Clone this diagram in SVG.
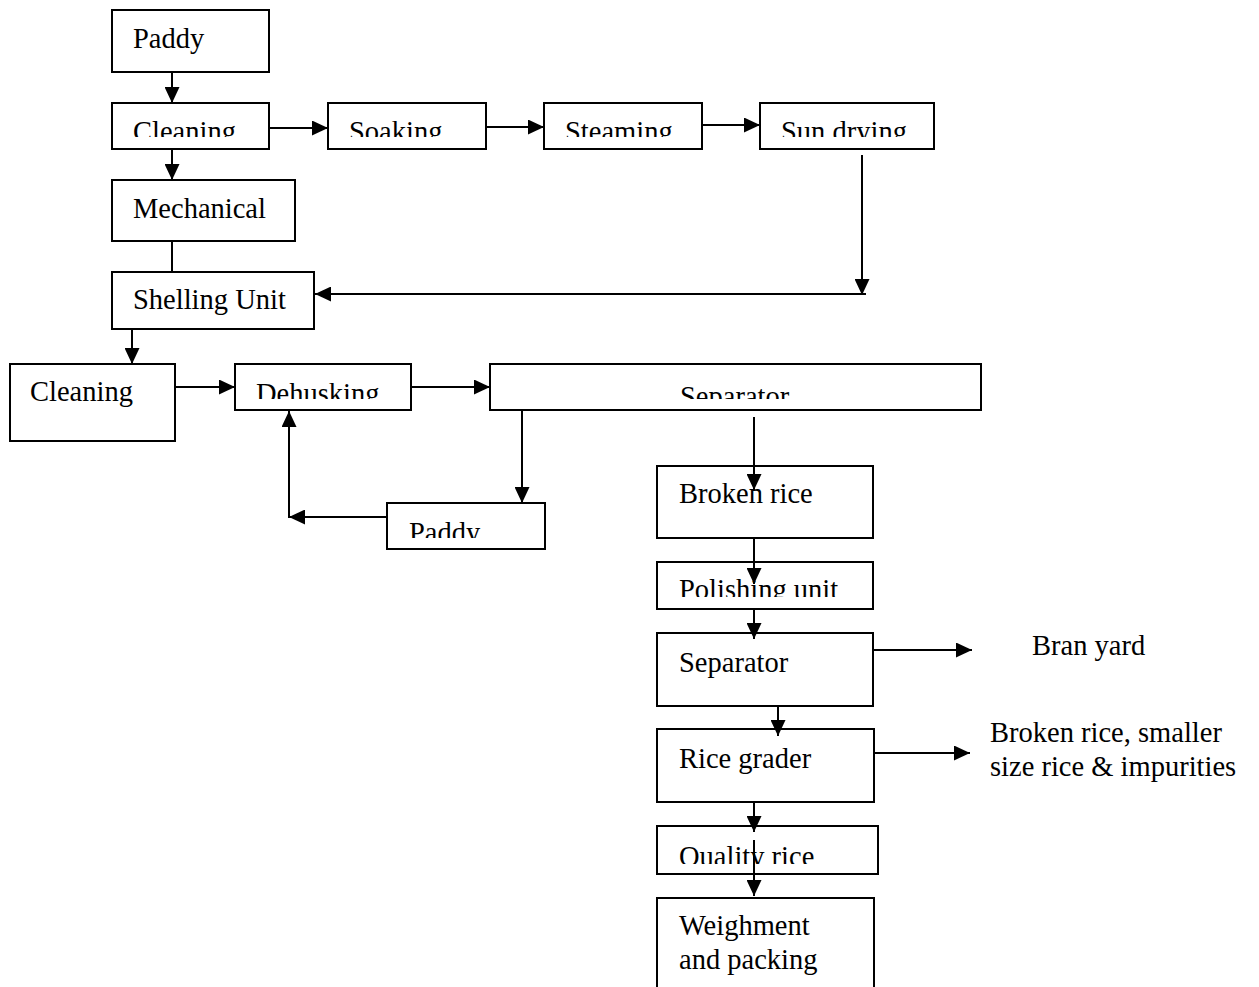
<svg xmlns="http://www.w3.org/2000/svg" width="1259" height="987" viewBox="0 0 1259 987">
<style>
.b{fill:#fff;stroke:#000;stroke-width:2}
.t{font-family:"Liberation Serif","Times New Roman",serif;font-size:28.5px;fill:#000}
.c{stroke:#000;stroke-width:2;fill:none}
.a{marker-end:url(#ah)}
</style>
<defs>
<marker id="ah" markerUnits="userSpaceOnUse" markerWidth="16" markerHeight="15" refX="16" refY="7.5" orient="auto">
<path d="M0,0 L16,7.5 L0,15 z" fill="#000"/>
</marker>
<clipPath id="k1"><rect x="0" y="100" width="1259" height="37"/></clipPath>
<clipPath id="k2"><rect x="0" y="360" width="1259" height="39"/></clipPath>
<clipPath id="k3"><rect x="0" y="500" width="1259" height="38"/></clipPath>
<clipPath id="k4"><rect x="0" y="560" width="1259" height="37"/></clipPath>
<clipPath id="k5"><rect x="0" y="824" width="1259" height="40"/></clipPath>
</defs>
<g id="paddy"><rect class="b" x="112" y="10" width="157" height="62"/><text class="t" x="133" y="48">Paddy</text></g>
<g id="cleaning1"><rect class="b" x="112" y="103" width="157" height="46"/><text class="t" x="133" y="141" clip-path="url(#k1)">Cleaning</text></g>
<g id="soaking"><rect class="b" x="328" y="103" width="158" height="46"/><text class="t" x="349" y="141" clip-path="url(#k1)">Soaking</text></g>
<g id="steaming"><rect class="b" x="544" y="103" width="158" height="46"/><text class="t" x="565" y="141" clip-path="url(#k1)">Steaming</text></g>
<g id="sundrying"><rect class="b" x="760" y="103" width="174" height="46"/><text class="t" x="781" y="141" clip-path="url(#k1)">Sun drying</text></g>
<g id="mechanical"><rect class="b" x="112" y="180" width="183" height="61"/><text class="t" x="133" y="218">Mechanical</text></g>
<g id="shelling"><rect class="b" x="112" y="272" width="202" height="57"/><text class="t" x="133" y="309">Shelling Unit</text></g>
<g id="cleaning2"><rect class="b" x="10" y="364" width="165" height="77"/><text class="t" x="30" y="401">Cleaning</text></g>
<g id="dehusking"><rect class="b" x="235" y="364" width="176" height="46"/><text class="t" x="256" y="403" clip-path="url(#k2)">Dehusking</text></g>
<g id="separator1"><rect class="b" x="490" y="364" width="491" height="46"/><text class="t" x="680" y="406" clip-path="url(#k2)">Separator</text></g>
<g id="paddy2"><rect class="b" x="387" y="503" width="158" height="46"/><text class="t" x="409" y="542" clip-path="url(#k3)">Paddy</text></g>
<g id="brokenrice"><rect class="b" x="657" y="466" width="216" height="72"/><text class="t" x="679" y="503">Broken rice</text></g>
<g id="polishing"><rect class="b" x="657" y="562" width="216" height="47"/><text class="t" x="679" y="599" clip-path="url(#k4)">Polishing unit</text></g>
<g id="separator2"><rect class="b" x="657" y="633" width="216" height="73"/><text class="t" x="679" y="672">Separator</text></g>
<g id="branyard"><text class="t" x="1032" y="655">Bran yard</text></g>
<g id="ricegrader"><rect class="b" x="657" y="729" width="217" height="73"/><text class="t" x="679" y="768">Rice grader</text></g>
<g id="brokenout"><text class="t" x="990" y="742">Broken rice, smaller</text><text class="t" x="990" y="776">size rice &amp; impurities</text></g>
<g id="quality"><rect class="b" x="657" y="826" width="221" height="48"/><text class="t" x="679" y="866" clip-path="url(#k5)">Quality rice</text></g>
<g id="weighment"><rect class="b" x="657" y="898" width="217" height="100"/><text class="t" x="679" y="935">Weighment</text><text class="t" x="679" y="969">and packing</text></g>
<g id="connectors">
<line class="c a" x1="172" y1="72" x2="172" y2="103"/>
<line class="c a" x1="269" y1="128" x2="328" y2="128"/>
<line class="c a" x1="486" y1="127" x2="544" y2="127"/>
<line class="c a" x1="702" y1="125" x2="760" y2="125"/>
<line class="c a" x1="172" y1="149" x2="172" y2="180"/>
<line class="c" x1="172" y1="241" x2="172" y2="272"/>
<line class="c a" x1="862" y1="155" x2="862" y2="295"/>
<line class="c a" x1="866" y1="294" x2="315" y2="294"/>
<line class="c a" x1="132" y1="329" x2="132" y2="364"/>
<line class="c a" x1="175" y1="387" x2="235" y2="387"/>
<line class="c a" x1="411" y1="387" x2="490" y2="387"/>
<line class="c a" x1="522" y1="410" x2="522" y2="503"/>
<line class="c a" x1="387" y1="517" x2="289" y2="517"/>
<line class="c a" x1="289" y1="518" x2="289" y2="411"/>
<line class="c a" x1="754" y1="417" x2="754" y2="490"/>
<line class="c a" x1="754" y1="538" x2="754" y2="584"/>
<line class="c a" x1="754" y1="609" x2="754" y2="639"/>
<line class="c a" x1="873" y1="650" x2="972" y2="650"/>
<line class="c a" x1="778" y1="706" x2="778" y2="736"/>
<line class="c a" x1="874" y1="753" x2="970" y2="753"/>
<line class="c a" x1="754" y1="802" x2="754" y2="832"/>
<line class="c a" x1="754" y1="840" x2="754" y2="896"/>
</g>
</svg>
